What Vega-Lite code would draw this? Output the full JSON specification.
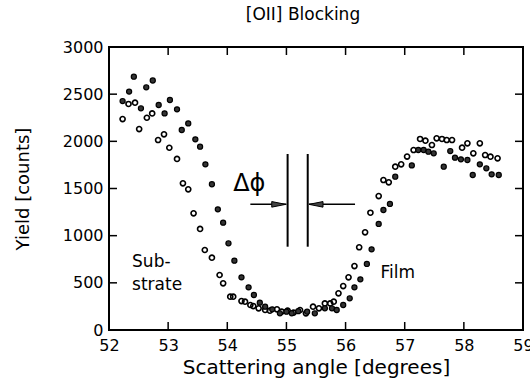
{
  "$schema": "https://vega.github.io/schema/vega-lite/v6.json",
  "width": 414,
  "height": 283,
  "autosize": {"type": "none"},
  "padding": {"left": 109, "top": 47, "right": 7, "bottom": 51},
  "background": "white",
  "config": {
    "view": {"stroke": "black", "strokeWidth": 2},
    "font": "DejaVu Sans"
  },
  "title": {
    "text": "[OII] Blocking",
    "font": "DejaVu Sans",
    "fontSize": 17,
    "fontWeight": "normal",
    "color": "black",
    "anchor": "middle",
    "dx": -13,
    "baseline": "alphabetic",
    "offset": 2
  },
  "datasets": {
    "pts": [
      {"angle": 52.23, "yield": 2236, "sample": "Substrate"},
      {"angle": 52.33, "yield": 2396, "sample": "Substrate"},
      {"angle": 52.44, "yield": 2410, "sample": "Substrate"},
      {"angle": 52.51, "yield": 2130, "sample": "Substrate"},
      {"angle": 52.64, "yield": 2250, "sample": "Substrate"},
      {"angle": 52.73, "yield": 2296, "sample": "Substrate"},
      {"angle": 52.83, "yield": 2014, "sample": "Substrate"},
      {"angle": 52.93, "yield": 2074, "sample": "Substrate"},
      {"angle": 53.02, "yield": 1932, "sample": "Substrate"},
      {"angle": 53.15, "yield": 1813, "sample": "Substrate"},
      {"angle": 53.25, "yield": 1555, "sample": "Substrate"},
      {"angle": 53.34, "yield": 1491, "sample": "Substrate"},
      {"angle": 53.43, "yield": 1237, "sample": "Substrate"},
      {"angle": 53.54, "yield": 1071, "sample": "Substrate"},
      {"angle": 53.62, "yield": 848, "sample": "Substrate"},
      {"angle": 53.74, "yield": 767, "sample": "Substrate"},
      {"angle": 53.87, "yield": 583, "sample": "Substrate"},
      {"angle": 53.93, "yield": 495, "sample": "Substrate"},
      {"angle": 54.05, "yield": 353, "sample": "Substrate"},
      {"angle": 54.10, "yield": 353, "sample": "Substrate"},
      {"angle": 54.24, "yield": 307, "sample": "Substrate"},
      {"angle": 54.30, "yield": 300, "sample": "Substrate"},
      {"angle": 54.39, "yield": 265, "sample": "Substrate"},
      {"angle": 54.44, "yield": 254, "sample": "Substrate"},
      {"angle": 54.53, "yield": 230, "sample": "Substrate"},
      {"angle": 54.64, "yield": 212, "sample": "Substrate"},
      {"angle": 54.72, "yield": 205, "sample": "Substrate"},
      {"angle": 54.84, "yield": 219, "sample": "Substrate"},
      {"angle": 54.92, "yield": 194, "sample": "Substrate"},
      {"angle": 55.02, "yield": 205, "sample": "Substrate"},
      {"angle": 55.12, "yield": 184, "sample": "Substrate"},
      {"angle": 55.23, "yield": 212, "sample": "Substrate"},
      {"angle": 55.33, "yield": 177, "sample": "Substrate"},
      {"angle": 55.45, "yield": 247, "sample": "Substrate"},
      {"angle": 55.55, "yield": 230, "sample": "Substrate"},
      {"angle": 55.65, "yield": 282, "sample": "Substrate"},
      {"angle": 55.74, "yield": 282, "sample": "Substrate"},
      {"angle": 55.80, "yield": 300, "sample": "Substrate"},
      {"angle": 55.88, "yield": 389, "sample": "Substrate"},
      {"angle": 55.96, "yield": 466, "sample": "Substrate"},
      {"angle": 56.05, "yield": 558, "sample": "Substrate"},
      {"angle": 56.15, "yield": 678, "sample": "Substrate"},
      {"angle": 56.23, "yield": 877, "sample": "Substrate"},
      {"angle": 56.33, "yield": 1035, "sample": "Substrate"},
      {"angle": 56.42, "yield": 1243, "sample": "Substrate"},
      {"angle": 56.56, "yield": 1420, "sample": "Substrate"},
      {"angle": 56.64, "yield": 1590, "sample": "Substrate"},
      {"angle": 56.73, "yield": 1565, "sample": "Substrate"},
      {"angle": 56.84, "yield": 1731, "sample": "Substrate"},
      {"angle": 56.94, "yield": 1756, "sample": "Substrate"},
      {"angle": 57.04, "yield": 1838, "sample": "Substrate"},
      {"angle": 57.15, "yield": 1908, "sample": "Substrate"},
      {"angle": 57.26, "yield": 2025, "sample": "Substrate"},
      {"angle": 57.35, "yield": 2007, "sample": "Substrate"},
      {"angle": 57.46, "yield": 1961, "sample": "Substrate"},
      {"angle": 57.54, "yield": 2032, "sample": "Substrate"},
      {"angle": 57.63, "yield": 2025, "sample": "Substrate"},
      {"angle": 57.71, "yield": 2014, "sample": "Substrate"},
      {"angle": 57.80, "yield": 2014, "sample": "Substrate"},
      {"angle": 57.97, "yield": 1933, "sample": "Substrate"},
      {"angle": 58.06, "yield": 1979, "sample": "Substrate"},
      {"angle": 58.16, "yield": 1873, "sample": "Substrate"},
      {"angle": 58.27, "yield": 1979, "sample": "Substrate"},
      {"angle": 58.36, "yield": 1855, "sample": "Substrate"},
      {"angle": 58.45, "yield": 1837, "sample": "Substrate"},
      {"angle": 58.57, "yield": 1820, "sample": "Substrate"},
      {"angle": 52.23, "yield": 2427, "sample": "Film"},
      {"angle": 52.34, "yield": 2527, "sample": "Film"},
      {"angle": 52.42, "yield": 2685, "sample": "Film"},
      {"angle": 52.54, "yield": 2350, "sample": "Film"},
      {"angle": 52.63, "yield": 2573, "sample": "Film"},
      {"angle": 52.74, "yield": 2645, "sample": "Film"},
      {"angle": 52.84, "yield": 2385, "sample": "Film"},
      {"angle": 52.94, "yield": 2296, "sample": "Film"},
      {"angle": 53.03, "yield": 2438, "sample": "Film"},
      {"angle": 53.15, "yield": 2339, "sample": "Film"},
      {"angle": 53.23, "yield": 2120, "sample": "Film"},
      {"angle": 53.34, "yield": 2190, "sample": "Film"},
      {"angle": 53.46, "yield": 2021, "sample": "Film"},
      {"angle": 53.54, "yield": 1943, "sample": "Film"},
      {"angle": 53.63, "yield": 1756, "sample": "Film"},
      {"angle": 53.74, "yield": 1545, "sample": "Film"},
      {"angle": 53.84, "yield": 1279, "sample": "Film"},
      {"angle": 53.93, "yield": 1138, "sample": "Film"},
      {"angle": 54.02, "yield": 919, "sample": "Film"},
      {"angle": 54.12, "yield": 735, "sample": "Film"},
      {"angle": 54.24, "yield": 558, "sample": "Film"},
      {"angle": 54.36, "yield": 452, "sample": "Film"},
      {"angle": 54.45, "yield": 371, "sample": "Film"},
      {"angle": 54.55, "yield": 290, "sample": "Film"},
      {"angle": 54.64, "yield": 247, "sample": "Film"},
      {"angle": 54.76, "yield": 219, "sample": "Film"},
      {"angle": 54.89, "yield": 177, "sample": "Film"},
      {"angle": 55.00, "yield": 194, "sample": "Film"},
      {"angle": 55.09, "yield": 177, "sample": "Film"},
      {"angle": 55.20, "yield": 200, "sample": "Film"},
      {"angle": 55.35, "yield": 194, "sample": "Film"},
      {"angle": 55.48, "yield": 177, "sample": "Film"},
      {"angle": 55.65, "yield": 230, "sample": "Film"},
      {"angle": 55.77, "yield": 230, "sample": "Film"},
      {"angle": 55.85, "yield": 212, "sample": "Film"},
      {"angle": 55.96, "yield": 265, "sample": "Film"},
      {"angle": 56.07, "yield": 336, "sample": "Film"},
      {"angle": 56.15, "yield": 452, "sample": "Film"},
      {"angle": 56.25, "yield": 537, "sample": "Film"},
      {"angle": 56.36, "yield": 700, "sample": "Film"},
      {"angle": 56.44, "yield": 855, "sample": "Film"},
      {"angle": 56.56, "yield": 1124, "sample": "Film"},
      {"angle": 56.64, "yield": 1272, "sample": "Film"},
      {"angle": 56.75, "yield": 1336, "sample": "Film"},
      {"angle": 56.84, "yield": 1625, "sample": "Film"},
      {"angle": 57.12, "yield": 1745, "sample": "Film"},
      {"angle": 57.23, "yield": 1908, "sample": "Film"},
      {"angle": 57.32, "yield": 1908, "sample": "Film"},
      {"angle": 57.40, "yield": 1890, "sample": "Film"},
      {"angle": 57.49, "yield": 1873, "sample": "Film"},
      {"angle": 57.66, "yield": 1731, "sample": "Film"},
      {"angle": 57.77, "yield": 1897, "sample": "Film"},
      {"angle": 57.85, "yield": 1827, "sample": "Film"},
      {"angle": 57.95, "yield": 1809, "sample": "Film"},
      {"angle": 58.06, "yield": 1802, "sample": "Film"},
      {"angle": 58.15, "yield": 1643, "sample": "Film"},
      {"angle": 58.27, "yield": 1756, "sample": "Film"},
      {"angle": 58.38, "yield": 1714, "sample": "Film"},
      {"angle": 58.47, "yield": 1650, "sample": "Film"},
      {"angle": 58.59, "yield": 1643, "sample": "Film"}
    ],
    "rules": [
      {"angle": 55.02, "angle2": 55.02, "yield": 883, "yield2": 1866, "kind": "bar"},
      {"angle": 55.36, "angle2": 55.36, "yield": 883, "yield2": 1866, "kind": "bar"},
      {"angle": 54.39, "angle2": 55.0, "yield": 1332, "yield2": 1332, "kind": "arrow"},
      {"angle": 55.38, "angle2": 56.16, "yield": 1332, "yield2": 1332, "kind": "arrow"}
    ],
    "heads": [
      {"angle": 54.87, "yield": 1332, "dir": "right"},
      {"angle": 55.50, "yield": 1332, "dir": "left"}
    ],
    "notes": [
      {"label": "Δϕ", "angle": 54.10, "yield": 1470, "kind": "big"},
      {"label": "Sub-", "angle": 52.39, "yield": 668, "kind": "small"},
      {"label": "strate", "angle": 52.39, "yield": 424, "kind": "small"},
      {"label": "Film", "angle": 56.59, "yield": 551, "kind": "small"}
    ],
    "ticks": [
      {"angle": 53, "yield": 0, "side": "x"},
      {"angle": 54, "yield": 0, "side": "x"},
      {"angle": 55, "yield": 0, "side": "x"},
      {"angle": 56, "yield": 0, "side": "x"},
      {"angle": 57, "yield": 0, "side": "x"},
      {"angle": 58, "yield": 0, "side": "x"},
      {"angle": 53, "yield": 3000, "side": "x"},
      {"angle": 54, "yield": 3000, "side": "x"},
      {"angle": 55, "yield": 3000, "side": "x"},
      {"angle": 56, "yield": 3000, "side": "x"},
      {"angle": 57, "yield": 3000, "side": "x"},
      {"angle": 58, "yield": 3000, "side": "x"},
      {"angle": 52, "yield": 500, "side": "y"},
      {"angle": 52, "yield": 1000, "side": "y"},
      {"angle": 52, "yield": 1500, "side": "y"},
      {"angle": 52, "yield": 2000, "side": "y"},
      {"angle": 52, "yield": 2500, "side": "y"},
      {"angle": 59, "yield": 500, "side": "y"},
      {"angle": 59, "yield": 1000, "side": "y"},
      {"angle": 59, "yield": 1500, "side": "y"},
      {"angle": 59, "yield": 2000, "side": "y"},
      {"angle": 59, "yield": 2500, "side": "y"}
    ]
  },
  "encoding": {
    "x": {"field": "angle", "type": "quantitative", "scale": {"domain": [52, 59], "nice": false, "zero": false},
      "axis": {"orient": "bottom", "values": [52, 53, 54, 55, 56, 57, 58, 59], "format": "d",
        "ticks": false, "domain": false, "grid": false,
        "labelFont": "DejaVu Sans", "labelFontSize": 16, "labelColor": "black", "labelPadding": 7, "labelFlush": false, "labelOverlap": false, "labelBound": false,
        "title": "Scattering angle [degrees]", "titleFont": "DejaVu Sans", "titleFontSize": 20, "titleFontWeight": "normal", "titleColor": "black", "titlePadding": 4}},
    "y": {"field": "yield", "type": "quantitative", "scale": {"domain": [0, 3000], "nice": false},
      "axis": {"orient": "left", "values": [0, 500, 1000, 1500, 2000, 2500, 3000], "format": "d",
        "ticks": false, "domain": false, "grid": false,
        "labelFont": "DejaVu Sans", "labelFontSize": 16, "labelColor": "black", "labelPadding": 6, "labelOverlap": false, "labelBound": false, "labelFlush": false,
        "title": "Yield [counts]", "titleFont": "DejaVu Sans", "titleFontSize": 18, "titleFontWeight": "normal", "titleColor": "black", "titlePadding": 30}}
  },
  "layer": [
    {
      "data": {"name": "ticks"},
      "transform": [{"filter": "datum.side === 'x'"}],
      "mark": {"type": "tick", "orient": "vertical", "clip": true, "color": "black", "size": 16, "thickness": 1.5, "opacity": 1}
    },
    {
      "data": {"name": "ticks"},
      "transform": [{"filter": "datum.side === 'y'"}],
      "mark": {"type": "tick", "orient": "horizontal", "clip": true, "color": "black", "size": 16, "thickness": 1.5, "opacity": 1}
    },
    {
      "data": {"name": "pts"},
      "transform": [{"filter": "datum.sample === 'Substrate'"}],
      "mark": {"type": "point", "shape": "circle", "filled": false, "stroke": "black", "strokeWidth": 1.6, "size": 26, "opacity": 1}
    },
    {
      "data": {"name": "pts"},
      "transform": [{"filter": "datum.sample === 'Film'"}],
      "mark": {"type": "point", "shape": "circle", "filled": true, "fill": "#333333", "stroke": "black", "strokeWidth": 1.2, "size": 26, "opacity": 1}
    },
    {
      "data": {"name": "rules"},
      "transform": [{"filter": "datum.kind === 'bar'"}],
      "mark": {"type": "rule", "color": "black", "strokeWidth": 2},
      "encoding": {
        "x2": {"field": "angle2"},
        "y2": {"field": "yield2"}
      }
    },
    {
      "data": {"name": "rules"},
      "transform": [{"filter": "datum.kind === 'arrow'"}],
      "mark": {"type": "rule", "color": "black", "strokeWidth": 1.5},
      "encoding": {
        "x2": {"field": "angle2"},
        "y2": {"field": "yield2"}
      }
    },
    {
      "data": {"name": "heads"},
      "transform": [{"filter": "datum.dir === 'right'"}],
      "mark": {"type": "point", "shape": "M-1,-0.4L1,0L-1,0.4Z", "filled": true, "fill": "#444444", "stroke": "black", "strokeWidth": 1, "size": 196, "opacity": 1}
    },
    {
      "data": {"name": "heads"},
      "transform": [{"filter": "datum.dir === 'left'"}],
      "mark": {"type": "point", "shape": "M1,-0.4L-1,0L1,0.4Z", "filled": true, "fill": "#444444", "stroke": "black", "strokeWidth": 1, "size": 196, "opacity": 1}
    },
    {
      "data": {"name": "notes"},
      "transform": [{"filter": "datum.kind === 'small'"}],
      "mark": {"type": "text", "align": "left", "baseline": "alphabetic", "font": "DejaVu Sans", "fontSize": 17, "color": "black"},
      "encoding": {"text": {"field": "label"}}
    },
    {
      "data": {"name": "notes"},
      "transform": [{"filter": "datum.kind === 'big'"}],
      "mark": {"type": "text", "align": "left", "baseline": "alphabetic", "font": "DejaVu Sans", "fontSize": 24, "color": "black"},
      "encoding": {"text": {"field": "label"}}
    }
  ]
}
